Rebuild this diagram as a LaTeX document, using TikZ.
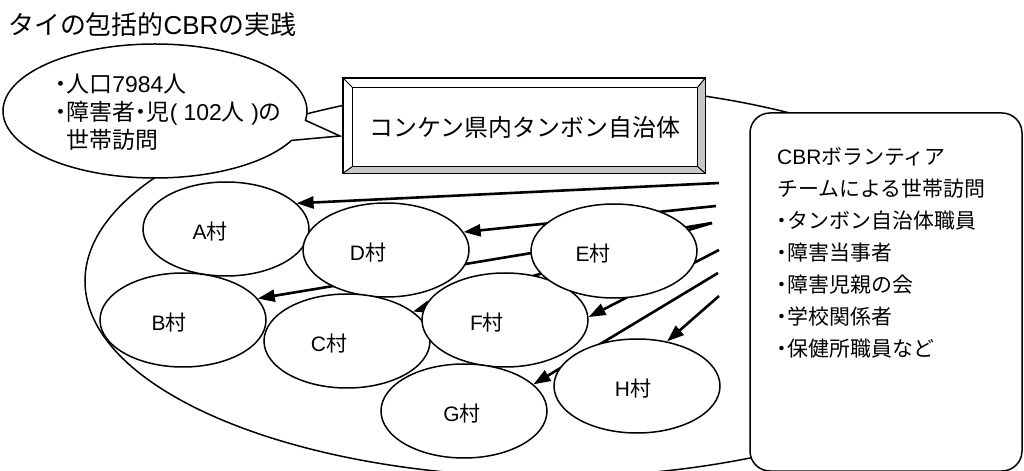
\documentclass[tikz,border=0pt]{standalone}
\usepackage{fontspec}
\setmainfont{Liberation Sans}
\newfontfamily\jp{Noto Sans CJK JP}
\usetikzlibrary{shapes.geometric,shapes.callouts,arrows.meta}
\pgfdeclarelayer{bg}
\pgfdeclarelayer{back}
\pgfsetlayers{bg,back,main}
\newcommand\J[1]{{\jp #1}}
\newcommand\nkg{\makebox[0.5em][c]{\jp ・}}
\newcommand\vlabel[2]{\raisebox{-3bp}[\height][\depth]{#1\J{村}}\hspace*{#2bp}}
\begin{document}
\begin{tikzpicture}[x=1bp,y=-1bp,
  outline/.style={draw,line width=1.5bp},
  village/.style={ellipse,outline,fill=white,minimum width=166bp,minimum height=94bp,inner sep=0pt,font=\fontsize{21}{25}\selectfont},
  flow/.style={line width=2.6bp,-{Triangle[length=17bp,width=12bp]}},
  plain/.style={inner sep=0pt}
  ]
\useasboundingbox (0,0) rectangle (1024,471);
\begin{pgfonlayer}{bg}
\fill[white] (0,0) rectangle (1024,471);
\node[ellipse,outline,minimum width=930bp,minimum height=392bp,inner sep=0pt] (region) at (550,281) {};
\end{pgfonlayer}

\node[plain,anchor=west,font=\fontsize{26}{30}\selectfont] (title) at (8,25) {\J{タイの包括的}CBR\J{の実践}};

% villages
\node[village] (A) at (226,229) {\vlabel{A}{32}};
\node[village] (D) at (386,250) {\vlabel{D}{36}};
\node[village] (B) at (183,320) {\vlabel{B}{28}};
\node[village] (C) at (347,341) {\vlabel{C}{36}};
\node[village] (F) at (505,320) {\vlabel{F}{36}};
\node[village] (G) at (464,411) {\vlabel{G}{4}};
\node[village] (E) at (614,251) {\vlabel{E}{42}};
\node[village] (H) at (637,386) {\vlabel{H}{8}};

% arrow starts
\coordinate (sA) at (719,183);
\coordinate (sD) at (716,206);
\coordinate (sBC) at (712,223);
\coordinate (sF) at (719,250);
\coordinate (sG) at (718,273);
\coordinate (sH) at (719,296);

\begin{pgfonlayer}{back}
\draw[flow] (sA) -- (A.20);
\draw[flow] (sD) -- (D.13);
\draw[flow] (sBC) -- (B.16);
\draw[flow] (sBC) -- (C.24);
\draw[flow] (sF) -- (F.2);
\draw[flow] (sG) -- (G.21);
\draw[flow] (sH) -- (H.56);
\end{pgfonlayer}

% speech bubble
\node[ellipse callout,outline,fill=white,minimum width=304bp,minimum height=134bp,inner sep=0pt,
  callout absolute pointer={(340,136)},callout pointer arc=18] (bubble) at (155,111) {};
\node[plain,anchor=west,align=left,font=\fontsize{23}{28}\selectfont] (bubbletext) at (55,112)
  {\nkg\J{人口}7984\J{人}\\\nkg\J{障害者}\nkg\J{児}( 102\J{人} )\J{の}\\\hspace*{0.5em}\J{世帯訪問}};

% bevelled box
\node[draw,line width=1.3bp,fill=white,minimum width=362bp,minimum height=95bp,inner sep=0pt] (box) at (524,125.5) {};
\node[plain,minimum width=344bp,minimum height=78bp,font=\fontsize{24}{28}\selectfont\jp] (boxin) at (525,127) {コンケン県内タンボン自治体};
\fill[black!22] (box.north east) -- (box.south east) -- (boxin.south east) -- (boxin.north east) -- cycle;
\fill[black!22] (box.south west) -- (box.south east) -- (boxin.south east) -- (boxin.south west) -- cycle;
\draw[line width=1.3bp] (box.north west) rectangle (box.south east);
\draw[line width=1.3bp] (boxin.north west) rectangle (boxin.south east);
\draw[line width=1bp] (box.north west) -- (boxin.north west)
  (box.north east) -- (boxin.north east)
  (box.south west) -- (boxin.south west)
  (box.south east) -- (boxin.south east);

% team box
\node[outline,fill=white,rounded corners=20bp,minimum width=272bp,minimum height=358bp,inner sep=0pt] (team) at (886,292) {};
\node[plain,anchor=north west,align=left,font=\fontsize{21}{32.2}\selectfont] (teamtext) at (777,147)
  {CBR\J{ボランティア}\\\J{チームによる世帯訪問}\\\nkg\J{タンボン自治体職員}\\\nkg\J{障害当事者}\\\nkg\J{障害児親の会}\\\nkg\J{学校関係者}\\\nkg\J{保健所職員など}};
\end{tikzpicture}
\end{document}
